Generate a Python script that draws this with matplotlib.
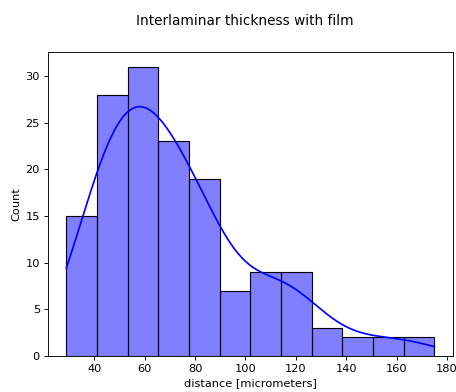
import matplotlib
matplotlib.use("Agg")
import matplotlib.pyplot as plt
import seaborn as sns
import numpy as np

bin_edges = [28.9, 41.07, 53.24, 65.41, 77.58, 89.75, 101.92, 114.09, 126.26, 138.43, 150.6, 162.77, 175.0]
counts = [15, 28, 31, 23, 19, 7, 9, 9, 3, 2, 2, 2]
centers = [(a + b) / 2 for a, b in zip(bin_edges[:-1], bin_edges[1:])]

DPI = 81.7
fig = plt.figure(figsize=(456 / DPI, 392 / DPI), dpi=DPI)
ax = fig.add_axes([0.105, 0.092, 0.888, 0.775])
sns.histplot(x=centers, weights=counts, bins=bin_edges, kde=True, color="blue",
             edgecolor="black", ax=ax,
             kde_kws=dict(bw_adjust=0.55, cut=3, clip=(bin_edges[0], bin_edges[-1])))
ax.set_xlabel("distance [micrometers]")
ax.set_ylabel("Count")
fig.suptitle("Interlaminar thickness with film", x=0.537, y=0.965)
fig.savefig("out.png", dpi=DPI)
